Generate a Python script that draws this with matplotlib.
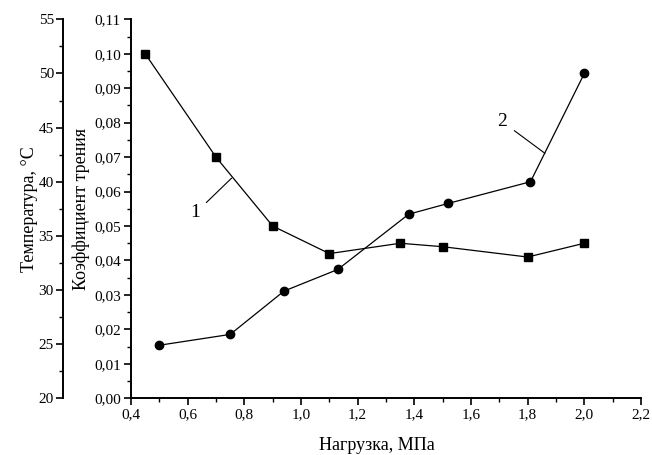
import matplotlib
matplotlib.use("Agg")
import matplotlib.pyplot as plt
from matplotlib.ticker import MultipleLocator, FuncFormatter

# Data
load_friction = [0.45, 0.70, 0.90, 1.10, 1.35, 1.50, 1.80, 2.00]
friction = [0.100, 0.070, 0.050, 0.042, 0.045, 0.044, 0.041, 0.045]
load_temp = [0.50, 0.75, 0.94, 1.13, 1.38, 1.52, 1.81, 2.00]
temperature = [24.9, 25.9, 29.9, 31.9, 37.0, 38.0, 40.0, 50.0]

xlabel = "Нагрузка, МПа"
ylabel_coef = "Коэффициент трения"
ylabel_temp = "Температура, °C"

plt.rcParams['font.family'] = ['Liberation Serif', 'DejaVu Serif']
plt.rcParams['font.size'] = 11

fig = plt.figure(figsize=(6.52, 4.55), dpi=100)
ax = fig.add_axes([131/652, 1-398.3/455, (641-131)/652, (398.3-19.3)/455])

ax.plot(load_friction, friction, color='black', lw=0.9, marker='s', ms=5.5)
ax.set_xlim(0.4, 2.2)
ax.set_ylim(0.0, 0.11)
ax.xaxis.set_major_locator(MultipleLocator(0.2))
ax.xaxis.set_minor_locator(MultipleLocator(0.1))
ax.yaxis.set_major_locator(MultipleLocator(0.01))
ax.yaxis.set_minor_locator(MultipleLocator(0.005))
ax.xaxis.set_major_formatter(FuncFormatter(lambda v, p: f"{v:.1f}".replace('.', ',')))
ax.yaxis.set_major_formatter(FuncFormatter(lambda v, p: f"{v:.2f}".replace('.', ',')))
for s in ['top', 'right']:
    ax.spines[s].set_visible(False)
for s in ['left', 'bottom']:
    ax.spines[s].set_linewidth(1.4)
ax.tick_params(which='major', direction='out', length=4.8, width=1.2, pad=2.5)
ax.tick_params(which='minor', direction='out', length=2.6, width=1.0)
ax.set_xlabel(xlabel, fontsize=13)
ax.xaxis.set_label_coords(0.483, -0.102)
ax.set_ylabel(ylabel_coef, fontsize=13)
ax.yaxis.set_label_coords(-0.080, 0.5)

ax2 = ax.twinx()
ax2.plot(load_temp, temperature, color='black', lw=0.9, marker='o', ms=6)
ax2.set_ylim(20, 55)
ax2.yaxis.set_ticks_position('left')
ax2.yaxis.set_label_position('left')
ax2.spines['left'].set_position(('axes', -0.1327))
ax2.spines['left'].set_visible(True)
ax2.spines['left'].set_linewidth(1.4)
for s in ['top', 'right', 'bottom']:
    ax2.spines[s].set_visible(False)
ax2.yaxis.set_major_locator(MultipleLocator(5))
ax2.yaxis.set_minor_locator(MultipleLocator(2.5))
ax2.tick_params(which='major', direction='out', length=4.8, width=1.2, pad=2)
ax2.tick_params(which='minor', direction='out', length=2.6, width=1.0)
ax2.set_ylabel(ylabel_temp, fontsize=13)
ax2.yaxis.set_label_coords(-0.183, 0.5)

ax.annotate("1", xy=(0.755, 0.0639), xytext=(0.628, 0.0538), fontsize=14,
            ha='center', va='center',
            arrowprops=dict(arrowstyle='-', color='black', lw=0.8, shrinkA=3, shrinkB=0))
ax.annotate("2", xy=(1.861, 0.0711), xytext=(1.71, 0.0803), fontsize=14,
            ha='center', va='center',
            arrowprops=dict(arrowstyle='-', color='black', lw=0.8, shrinkA=4, shrinkB=0))

fig.savefig("out.png", dpi=100)
